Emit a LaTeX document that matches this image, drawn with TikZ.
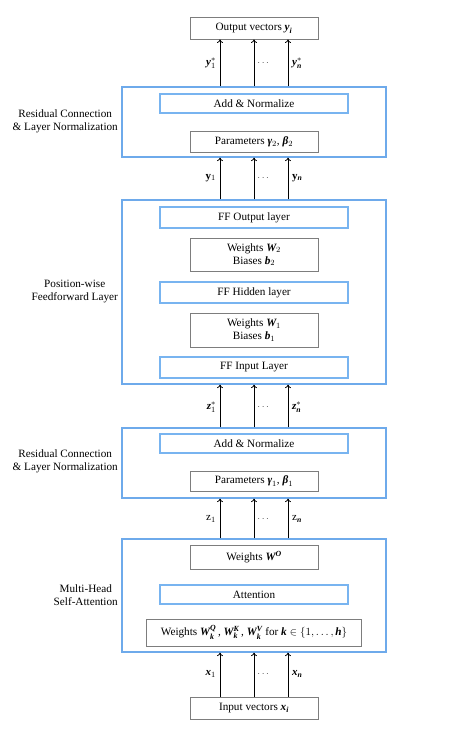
\documentclass[tikz,border=0pt]{standalone}
\usepackage{amsmath}
\usepackage{fontspec}
\setmainfont{Liberation Serif}
\usetikzlibrary{arrows.meta}
\newcommand\bi[1]{\text{\bfseries\itshape #1}}
\definecolor{outerblue}{RGB}{110,170,235}
\definecolor{innerblue}{RGB}{120,180,240}
\definecolor{boxgray}{RGB}{125,125,125}
\begin{document}
\begin{tikzpicture}[x=1pt,y=-1pt,
  every node/.style={font=\fontsize{11.2}{13}\selectfont, inner sep=0pt},
  outerbox/.style={draw=outerblue, line width=1.2pt, minimum width=264pt},
  bluebox/.style={draw=innerblue, line width=1.6pt, minimum width=188pt},
  graybox/.style={draw=boxgray, line width=0.9pt, minimum width=128pt, align=center},
  sidelabel/.style={anchor=east, align=center},
  arr/.style={-{To[length=3.5pt,width=6pt]}, line width=0.8pt},
  lbl/.style={font=\fontsize{11}{13}\selectfont},
  dots/.style={font=\fontsize{10}{12}\selectfont, text=black!70}
]
\useasboundingbox (0,0) rectangle (455,729);

% column coordinates
\coordinate (c1) at (220,0);
\coordinate (c2) at (254,0);
\coordinate (c3) at (288,0);

% outer boxes
\node[outerbox, minimum height=70pt] (res2) at (254,122) {};
\node[outerbox, minimum height=184pt] (ff) at (254,292) {};
\node[outerbox, minimum height=70pt] (res1) at (254,463) {};
\node[outerbox, minimum height=113pt] (mhsa) at (254,595.5) {};

% side labels
\node[sidelabel] (l1) at (118,121.5) {Residual Connection\\\& Layer Normalization};
\node[sidelabel] (l2) at (118,291.5) {Position-wise\\Feedforward Layer};
\node[sidelabel] (l3) at (118,461.5) {Residual Connection\\\& Layer Normalization};
\node[sidelabel] (l4) at (118,595.5) {Multi-Head\\Self-Attention};

% inner boxes
\node[graybox, minimum height=22pt] (out) at (254,28) {Output vectors $\bi{y}_{\bi{i}}$};
\node[bluebox, minimum height=19pt] (add2) at (254,103.5) {Add \& Normalize};
\node[graybox, minimum height=21pt] (par2) at (254,141.5) {Parameters $\bi{γ}_2$, $\bi{β}_2$};
\node[bluebox, minimum height=21pt] (ffo) at (254,217.5) {FF Output layer};
\node[graybox, minimum height=33pt] (w2) at (254,254.5) {Weights $\bi{W}_2$\\Biases $\bi{b}_2$};
\node[bluebox, minimum height=21pt] (ffh) at (254,292.5) {FF Hidden layer};
\node[graybox, minimum height=34pt] (w1) at (254,330) {Weights $\bi{W}_1$\\Biases $\bi{b}_1$};
\node[bluebox, minimum height=21pt] (ffi) at (254,367.5) {FF Input Layer};
\node[bluebox, minimum height=19pt] (add1) at (254,443.5) {Add \& Normalize};
\node[graybox, minimum height=20pt] (par1) at (254,481) {Parameters $\bi{γ}_1$, $\bi{β}_1$};
\node[graybox, minimum height=24pt] (wo) at (254,557) {Weights $\bi{W}^{\bi{O}}$};
\node[bluebox, minimum height=19pt] (att) at (254,594.5) {Attention};
\node[graybox, minimum width=215pt, minimum height=27pt] (wqkv) at (254,632.5)
  {Weights $\bi{W}^{\bi{Q}}_{\bi{k}}$\,, $\bi{W}^{\bi{K}}_{\bi{k}}$\,, $\bi{W}^{\bi{V}}_{\bi{k}}$ for $\bi{k}\in\{1,\ldots,\bi{h}\}$};
\node[graybox, minimum height=22pt] (in) at (254,708) {Input vectors $\bi{x}_{\bi{i}}$};

% arrows
\foreach \c in {c1,c2,c3}{
  \draw[arr] (res2.north -| \c) -- (out.south -| \c);
  \draw[arr] (ff.north -| \c) -- (res2.south -| \c);
  \draw[arr] (res1.north -| \c) -- (ff.south -| \c);
  \draw[arr] (mhsa.north -| \c) -- (res1.south -| \c);
  \draw[arr] (in.north -| \c) -- (mhsa.south -| \c);
}

% arrow labels
\node[lbl, anchor=east] (ya) at (216,63) {$\bi{y}^{*}_{1}$};
\node[dots] (yd) at (264,63) {$\cdots$};
\node[lbl, anchor=west] (yb) at (292,63) {$\bi{y}^{*}_{\bi{n}}$};

\node[lbl, anchor=east] (ma) at (216,178) {$\mathbf{y}_{1}$};
\node[dots] (md) at (264,178) {$\cdots$};
\node[lbl, anchor=west] (mb) at (292,178) {$\mathbf{y}_{\bi{n}}$};

\node[lbl, anchor=east] (za) at (216,407) {$\bi{z}^{*}_{1}$};
\node[dots] (zd) at (264,407) {$\cdots$};
\node[lbl, anchor=west] (zb) at (292,407) {$\bi{z}^{*}_{\bi{n}}$};

\node[lbl, anchor=east] (ka) at (216,519) {$\mathrm{z}_{1}$};
\node[dots] (kd) at (264,519) {$\cdots$};
\node[lbl, anchor=west] (kb) at (292,519) {$\mathrm{z}_{\bi{n}}$};

\node[lbl, anchor=east] (xa) at (216,674) {$\bi{x}_{1}$};
\node[dots] (xd) at (264,674) {$\cdots$};
\node[lbl, anchor=west] (xb) at (292,674) {$\bi{x}_{\bi{n}}$};
\end{tikzpicture}
\end{document}
